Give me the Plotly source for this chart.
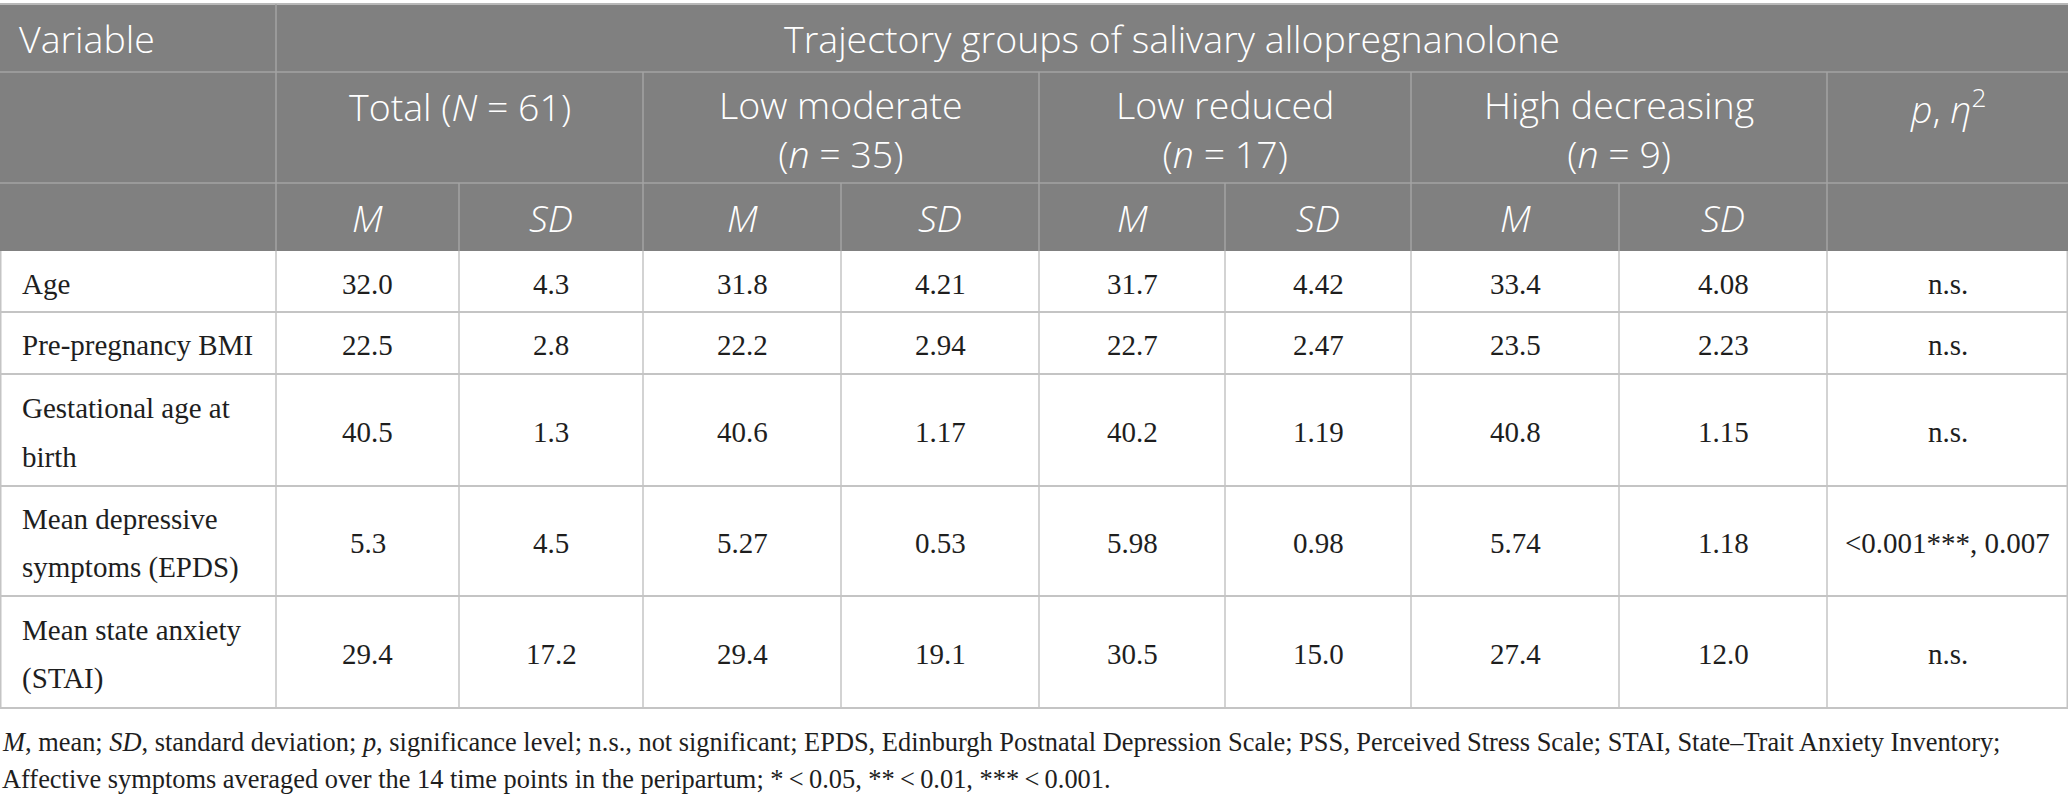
import plotly.graph_objects as go

# table content
variables = [
    ["Age"],
    ["Pre-pregnancy BMI"],
    ["Gestational age at", "birth"],
    ["Mean depressive", "symptoms (EPDS)"],
    ["Mean state anxiety", "(STAI)"],
]
total_m = ["32.0", "22.5", "40.5", "5.3", "29.4"]
total_sd = ["4.3", "2.8", "1.3", "4.5", "17.2"]
low_moderate_m = ["31.8", "22.2", "40.6", "5.27", "29.4"]
low_moderate_sd = ["4.21", "2.94", "1.17", "0.53", "19.1"]
low_reduced_m = ["31.7", "22.7", "40.2", "5.98", "30.5"]
low_reduced_sd = ["4.42", "2.47", "1.19", "0.98", "15.0"]
high_decreasing_m = ["33.4", "23.5", "40.8", "5.74", "27.4"]
high_decreasing_sd = ["4.08", "2.23", "1.15", "1.18", "12.0"]
p_eta = ["n.s.", "n.s.", "n.s.", "&lt;0.001***, 0.007", "n.s."]

group_labels = [
    ["Total (<i>N</i> = 61)"],
    ["Low moderate", "(<i>n</i> = 35)"],
    ["Low reduced", "(<i>n</i> = 17)"],
    ["High decreasing", "(<i>n</i> = 9)"],
    ["<i>p</i>, <i>η</i><sup>2</sup>"],
]
stat_labels = ["<i>M</i>", "<i>SD</i>"]
footnote = [
    "<i>M</i>, mean; <i>SD</i>, standard deviation; <i>p</i>, significance level; n.s., not significant; "
    "EPDS, Edinburgh Postnatal Depression Scale; PSS, Perceived Stress Scale; STAI, State\u2013Trait Anxiety Inventory;",
    "Affective symptoms averaged over the 14 time points in the peripartum; *\u2009&lt;\u20090.05, "
    "**\u2009&lt;\u20090.01, ***\u2009&lt;\u20090.001.",
]

# layout geometry (pixels)
W, H = 2068, 800
col_w = [276, 183, 184, 198, 198, 186, 186, 208, 208, 241]
top = 4
head_h = [68, 111, 68]
body_h = [61, 62, 112, 110, 112]

xs = [0]
for w in col_w:
    xs.append(xs[-1] + w)
hy = [top]
for h in head_h:
    hy.append(hy[-1] + h)
by = [hy[-1]]
for h in body_h:
    by.append(by[-1] + h)

HEAD_BG = "#808080"
HEAD_LINE = "#a3a3a3"
BODY_LINE = "#c4c4c4"
SANS = "Open Sans"
SERIF = "Liberation Serif"
INK = "#1e1e1e"

shapes = []
annotations = []


def line(x0, y0, x1, y1, color, width=1.5):
    shapes.append(dict(type="line", x0=x0, y0=y0, x1=x1, y1=y1,
                       line=dict(color=color, width=width), layer="above"))


def text(x, y, s, font, size, color, xanchor="center", weight=400):
    annotations.append(dict(x=x, y=y, text=s, showarrow=False, xanchor=xanchor,
                            yanchor="middle",
                            font=dict(family=font, size=size, color=color, weight=weight)))


# header background
shapes.append(dict(type="rect", x0=0, x1=W, y0=hy[0], y1=hy[-1],
                   fillcolor=HEAD_BG, line=dict(width=0), layer="below"))
line(0, hy[0], W, hy[0], "#b8b8b8", 2)
line(0, hy[1], W, hy[1], HEAD_LINE)
line(0, hy[2], W, hy[2], HEAD_LINE)
line(xs[1], hy[0], xs[1], hy[3], HEAD_LINE)
for i in [3, 5, 7, 9]:
    line(xs[i], hy[1], xs[i], hy[3], HEAD_LINE)
for i in [2, 4, 6, 8]:
    line(xs[i], hy[2], xs[i], hy[3], HEAD_LINE)

# body grid
for x in xs:
    x = min(max(x, 0.75), W - 0.75)
    line(x, by[0], x, by[-1], BODY_LINE)
for y in by[1:]:
    line(0, y, W, y, BODY_LINE, 2)

# header text
HS = 37.5
HW = 300
text(17, (hy[0] + hy[1]) / 2, "Variable", SANS, HS, "white", "left", HW)
text((xs[1] + W) / 2, (hy[0] + hy[1]) / 2, "Trajectory groups of salivary allopregnanolone",
     SANS, HS, "white", weight=HW)
group_spans = [(1, 3), (3, 5), (5, 7), (7, 9), (9, 10)]
for (a, b), lab in zip(group_spans, group_labels):
    cx = (xs[a] + xs[b]) / 2
    if len(lab) == 1:
        text(cx, hy[1] + 34, lab[0], SANS, HS, "white", weight=HW)
    else:
        text(cx, (hy[1] + hy[2]) / 2 + 1, "<br>".join(lab), SANS, HS, "white", weight=HW)
for a, b in group_spans[:4]:
    for k, s in enumerate(stat_labels):
        cx = (xs[a + k] + xs[a + k + 1]) / 2
        text(cx, (hy[2] + hy[3]) / 2, s, SANS, HS, "white", weight=HW)

# body text
BS = 29
columns = [total_m, total_sd, low_moderate_m, low_moderate_sd, low_reduced_m,
           low_reduced_sd, high_decreasing_m, high_decreasing_sd, p_eta]
for r, lab in enumerate(variables):
    cy = (by[r] + by[r + 1]) / 2 + 2
    n = len(lab)
    for k, s in enumerate(lab):
        text(20, cy + (k - (n - 1) / 2) * 49, s, SERIF, BS, INK, "left")
    for c, col in enumerate(columns):
        text((xs[c + 1] + xs[c + 2]) / 2, cy, col[r], SERIF, BS, INK)

# footnote
for k, s in enumerate(footnote):
    text(0, by[-1] + 34 + 37 * k, s, SERIF, 26.4, INK, "left")

fig = go.Figure()
fig.update_layout(
    width=W, height=H,
    margin=dict(l=0, r=0, t=0, b=0),
    paper_bgcolor="white", plot_bgcolor="white",
    xaxis=dict(range=[0, W], visible=False, fixedrange=True),
    yaxis=dict(range=[H, 0], visible=False, fixedrange=True),
    shapes=shapes, annotations=annotations,
    showlegend=False,
)
# the page body has a default 8px margin; drop it so the figure fills the window
fig.write_html("out.html", config={"displayModeBar": False},
               post_script="document.body.style.margin='0';")
